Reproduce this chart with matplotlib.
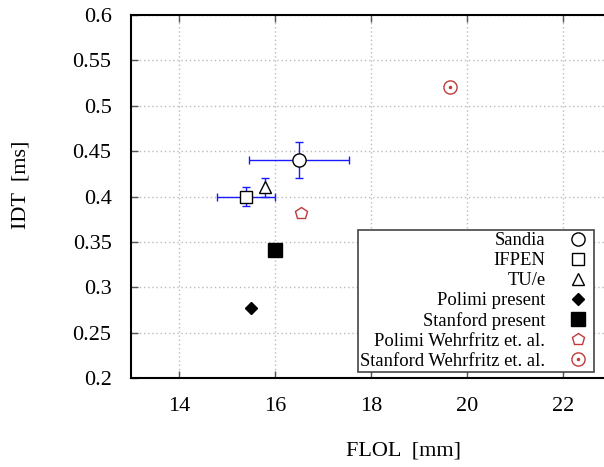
import matplotlib.pyplot as plt
from matplotlib.legend_handler import HandlerTuple

plt.rcParams['font.family'] = ['Liberation Serif', 'DejaVu Serif']

# data: FLOL [mm], IDT [ms]
labels = ['Sandia', 'IFPEN', 'TU/e', 'Polimi present', 'Stanford present',
          'Polimi Wehrfritz et. al.', 'Stanford Wehrfritz et. al.']
flol = [16.5, 15.4, 15.8, 15.5, 16.0, 16.55, 19.65]
idt = [0.44, 0.40, 0.41, 0.277, 0.341, 0.382, 0.521]
flol_err = [1.05, 0.6, 0, 0, 0, 0, 0]
idt_err = [0.02, 0.01, 0.01, 0, 0, 0, 0]

red = '#c03a3a'
styles = [
    dict(marker='o', ms=9.5, mfc='white', mec='black'),
    dict(marker='s', ms=8.5, mfc='white', mec='black'),
    dict(marker='^', ms=8.5, mfc='white', mec='black'),
    dict(marker='D', ms=6.5, mfc='black', mec='black'),
    dict(marker='s', ms=9.5, mfc='black', mec='black'),
    dict(marker='p', ms=9, mfc='white', mec=red),
    dict(marker='o', ms=9.5, mfc='white', mec=red),
]

fig = plt.figure(figsize=(6.04, 4.67), dpi=100)
ax = fig.add_axes([131 / 604, 89 / 467, 480 / 604, 363 / 467])

# error bars first, then markers on top
for i in range(len(labels)):
    if flol_err[i] or idt_err[i]:
        ax.errorbar(flol[i], idt[i],
                    xerr=flol_err[i] if flol_err[i] else None,
                    yerr=idt_err[i] if idt_err[i] else None,
                    fmt='none', ecolor='#1a1aff', elinewidth=1,
                    capsize=3, capthick=1, zorder=2)

handles = []
for i in range(len(labels)):
    h, = ax.plot(flol[i], idt[i], ls='none', mew=1, zorder=3, **styles[i])
    handles.append(h)

# dot in the middle of the last circle
dot, = ax.plot(flol[-1], idt[-1], ls='none', marker='o', ms=1.5,
               color=red, zorder=4)
handles[-1] = (handles[-1], dot)

ax.set_xlim(13, 23)
ax.set_ylim(0.2, 0.6)
ax.set_xticks([14, 16, 18, 20, 22])
ax.set_yticks([0.2, 0.25, 0.3, 0.35, 0.4, 0.45, 0.5, 0.55, 0.6])
ax.set_yticklabels(['0.2', '0.25', '0.3', '0.35', '0.4', '0.45', '0.5', '0.55', '0.6'])
ax.tick_params(direction='in', length=5, width=1, color='#555555',
               top=True, right=True, labelsize=16, pad=14)
ax.grid(True, color='#bbbbbb', linestyle=(0, (1, 2)), linewidth=1)
for s in ax.spines.values():
    s.set_linewidth(1.5)

ax.set_xlabel('FLOL  [mm]', fontsize=16)
ax.set_ylabel('IDT  [ms]', fontsize=16)
ax.xaxis.set_label_coords(0.567, -0.176)
ax.yaxis.set_label_coords(-0.21, 0.532)

leg = ax.legend(handles, labels, loc='lower right',
                bbox_to_anchor=(0.964, 0.017),
                handler_map={tuple: HandlerTuple(ndivide=1, pad=0)},
                markerfirst=False, fontsize=13.4, frameon=True, fancybox=False,
                labelspacing=0.16, handletextpad=1.0, borderpad=0.1,
                handlelength=1.5, borderaxespad=0)
leg.get_frame().set_edgecolor('#444444')
leg.get_frame().set_linewidth(1.2)
leg.get_frame().set_alpha(1)

fig.savefig('out.png', dpi=100)
